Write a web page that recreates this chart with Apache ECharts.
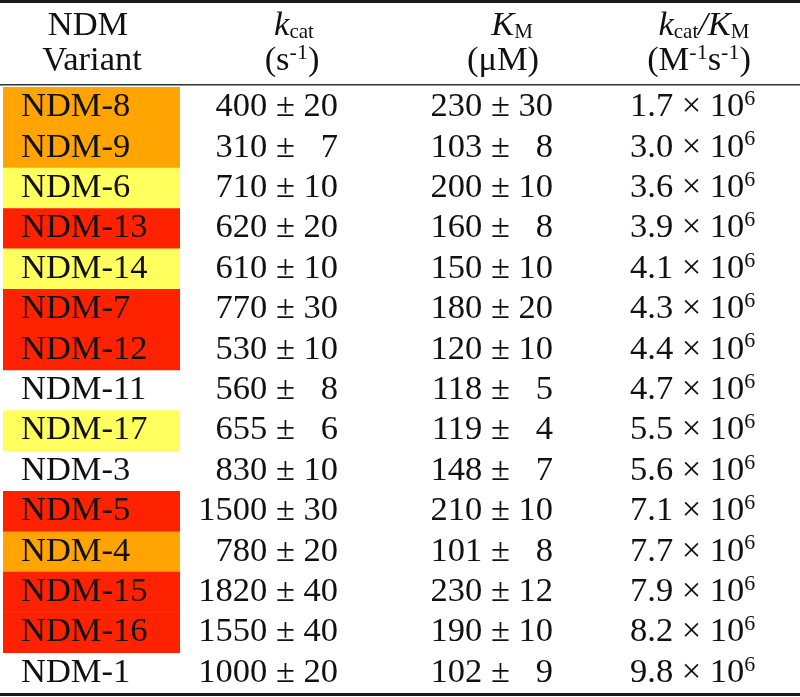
<!DOCTYPE html>
<html><head><meta charset="utf-8">
<script src="https://cdn.jsdelivr.net/npm/echarts@6/dist/echarts.min.js"></script>
<style>html,body{margin:0;padding:0;background:#fff}#c{width:800px;height:697px}</style>
</head><body><div id="c"></div>
<script>
const variants = ['NDM-8','NDM-9','NDM-6','NDM-13','NDM-14','NDM-7','NDM-12','NDM-11','NDM-17','NDM-3','NDM-5','NDM-4','NDM-15','NDM-16','NDM-1'];
const kcat = [400,310,710,620,610,770,530,560,655,830,1500,780,1820,1550,1000];
const kcatErr = [20,7,10,20,10,30,10,8,6,10,30,20,40,40,20];
const km = [230,103,200,160,150,180,120,118,119,148,210,101,230,190,102];
const kmErr = [30,8,10,8,10,20,10,5,4,7,10,8,12,10,9];
const ratio = [1.7,3.0,3.6,3.9,4.1,4.3,4.4,4.7,5.5,5.6,7.1,7.7,7.9,8.2,9.8];
const ratioExp = 6;
const groups = ['orange','orange','yellow','red','yellow','red','red','none','yellow','none','red','orange','red','red','none'];

const groupColors = {orange:'#FFA400', yellow:'#FFFF5E', red:'#FF2200', none:null};
const FONT = 'Liberation Serif';
const FS = 34.5;
const TXT = '#111';
const layout = {cellLeft:3, cellRight:180, variantX:21, kcatX:338, kmX:553, ratioX:630, textDy:0};

function fmtErr(v, e){ return v + ' \u00b1 ' + (e < 10 ? '\u2007' + e : e); }

const baseRich = {
  b:{fontFamily:FONT,fontSize:FS,lineHeight:38,fill:TXT,color:TXT},
  i:{fontFamily:FONT,fontSize:FS,fontStyle:'italic',lineHeight:38,fill:TXT,color:TXT},
  sub:{fontFamily:FONT,fontSize:21,lineHeight:21,verticalAlign:'bottom',fill:TXT,color:TXT,padding:[0,0,2,0]},
  sup:{fontFamily:FONT,fontSize:22,lineHeight:22,verticalAlign:'top',fill:TXT,color:TXT}
};

const chart = echarts.init(document.getElementById('c'));
function headerText(x, y, text){
  return {type:'text', x:x, y:y, style:{text:text, rich:baseRich, align:'center', verticalAlign:'middle', fill:TXT}};
}
chart.setOption({
  animation:false,
  grid:{left:0,right:0,top:87,bottom:4},
  xAxis:{type:'value',min:0,max:800,show:false},
  yAxis:{type:'category',data:variants,inverse:true,show:false},
  graphic:[
    {type:'rect',shape:{x:0,y:0,width:800,height:3},style:{fill:'#1a1a1a'}},
    {type:'rect',shape:{x:0,y:84,width:800,height:1.5},style:{fill:'#333'}},
    {type:'rect',shape:{x:0,y:693,width:800,height:3},style:{fill:'#1a1a1a'}},
    headerText(88, 26, '{b|NDM}'),
    headerText(92, 61, '{b|Variant}'),
    headerText(294, 26, '{i|k}{sub|cat}'),
    headerText(292, 61, '{b|(s}{sup|-1}{b|)}'),
    headerText(512, 26, '{i|K}{sub|M}'),
    headerText(503, 61, '{b|(μM)}'),
    headerText(704, 26, '{i|k}{sub|cat}{i|/K}{sub|M}'),
    headerText(699, 61, '{b|(M}{sup|-1}{b|s}{sup|-1}{b|)}')
  ],
  series:[{
    type:'custom',
    data:variants.map((v,i)=>[0,i]),
    renderItem:function(params, api){
      const i = api.value(1);
      const c = api.coord([0,i]);
      const h = api.size([0,1])[1];
      const y = c[1] + layout.textDy;
      const children = [];
      const col = groupColors[groups[i]];
      if (col) children.push({type:'rect',shape:{x:layout.cellLeft,y:c[1]-h/2,width:layout.cellRight-layout.cellLeft,height:h+0.5},style:{fill:col}});
      const ts = (x, text, align)=>({type:'text',style:{x:x,y:y,text:text,font:FS+'px "'+FONT+'"',fill:TXT,align:align,verticalAlign:'middle'}});
      children.push(ts(layout.variantX, variants[i], 'left'));
      children.push(ts(layout.kcatX, fmtErr(kcat[i], kcatErr[i]), 'right'));
      children.push(ts(layout.kmX, fmtErr(km[i], kmErr[i]), 'right'));
      children.push({type:'text',style:{x:layout.ratioX,y:y,text:'{b|'+ratio[i].toFixed(1)+' \u00d7 10}{sup|'+ratioExp+'}',rich:baseRich,align:'left',verticalAlign:'middle',fill:TXT}});
      return {type:'group',children:children};
    }
  }]
});
</script></body></html>
